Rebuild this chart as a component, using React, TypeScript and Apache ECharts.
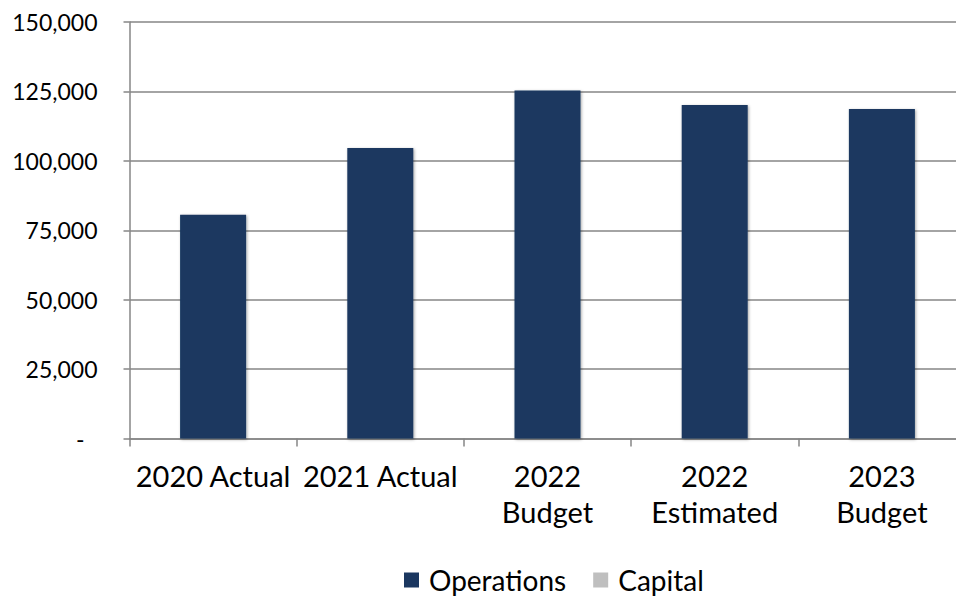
import React, { useEffect, useRef } from "react";
import * as echarts from "echarts";

const categories = ["2020 Actual", "2021 Actual", "2022\nBudget", "2022\nEstimated", "2023\nBudget"];
const operations = [80600, 104600, 125300, 120100, 118700];
const capital = [0, 0, 0, 0, 0];
const yTicks = { min: 0, max: 150000, interval: 25000 };

const FONT = "Lato, 'Open Sans', sans-serif";

export default function App() {
  const ref = useRef<HTMLDivElement>(null);
  useEffect(() => {
    if (!ref.current) return;
    const chart = echarts.init(ref.current, null, { renderer: "svg" });
    chart.setOption({
      animation: false,
      backgroundColor: "#ffffff",
      textStyle: { fontFamily: FONT },
      grid: { left: 129.5, top: 22, width: 836, height: 416.5, containLabel: false },
      legend: {
        left: 399,
        top: 561,
        itemWidth: 15,
        itemHeight: 15,
        itemGap: 27,
        icon: "rect",
        textStyle: { fontFamily: FONT, fontSize: 28, color: "#000", padding: [0, 0, 0, 5] },
        data: ["Operations", "Capital"],
      },
      xAxis: {
        type: "category",
        data: categories,
        axisLine: { lineStyle: { color: "#868686", width: 1.5 } },
        axisTick: { show: true, length: 8, lineStyle: { color: "#868686", width: 1.5 } },
        axisLabel: {
          interval: 0,
          color: "#000",
          fontFamily: FONT,
          fontSize: 29,
          lineHeight: 36,
          margin: 19,
        },
      },
      yAxis: {
        type: "value",
        min: yTicks.min,
        max: yTicks.max,
        interval: yTicks.interval,
        axisLine: { show: true, lineStyle: { color: "#868686", width: 1.5 } },
        axisTick: { show: true, length: 6, lineStyle: { color: "#868686", width: 1.5 } },
        splitLine: { show: true, lineStyle: { color: "#868686", width: 1.5 } },
        axisLabel: {
          color: "#000",
          fontFamily: FONT,
          fontSize: 23,
          margin: 32,
          formatter: (v: number) => (v === 0 ? "{z|-}" : v.toLocaleString("en-US")),
          rich: { z: { fontSize: 23, color: "#000", fontFamily: FONT, padding: [0, 13, 0, 0] } },
        },
      },
      series: [
        {
          name: "Operations",
          type: "bar",
          stack: "total",
          data: operations,
          barWidth: 66,
          itemStyle: {
            color: "#1B3760",
            shadowBlur: 3,
            shadowColor: "rgba(0,0,0,0.35)",
            shadowOffsetX: 1,
            shadowOffsetY: 1,
          },
        },
        {
          name: "Capital",
          type: "bar",
          stack: "total",
          data: capital,
          barWidth: 66,
          itemStyle: { color: "#BFBFBF" },
        },
      ],
    });
    return () => chart.dispose();
  }, []);
  return (
    <div style={{ position: "fixed", left: 0, top: 0, width: 956, height: 596, overflow: "hidden", background: "#fff" }}>
      <div ref={ref} style={{ width: 966, height: 596 }} />
    </div>
  );
}
